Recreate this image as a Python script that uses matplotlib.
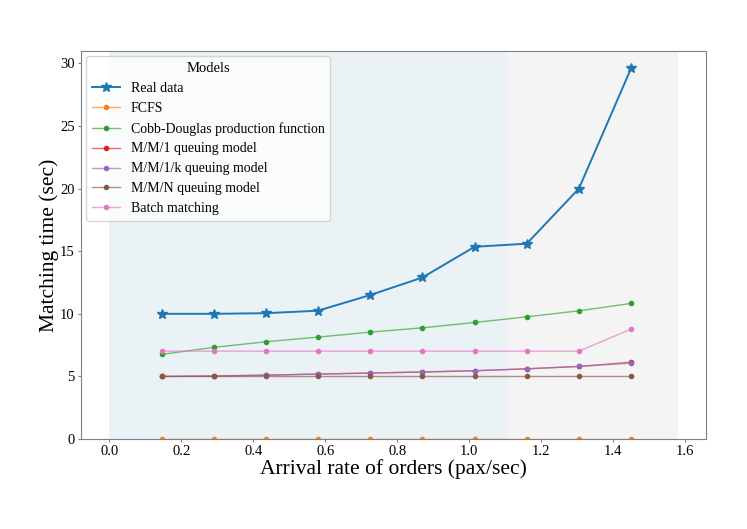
import matplotlib
matplotlib.use("Agg")
import matplotlib.pyplot as plt
from matplotlib.colors import to_rgba

plt.rcParams['font.family'] = ['Liberation Serif', 'DejaVu Serif']

# arrival rate of orders (pax/sec)
rate = [0.145, 0.29, 0.435, 0.58, 0.725, 0.87, 1.015, 1.16, 1.305, 1.45]

real_data = [10.0, 10.0, 10.05, 10.25, 11.5, 12.9, 15.35, 15.6, 20.0, 29.6]
fcfs = [0, 0, 0, 0, 0, 0, 0, 0, 0, 0]
cobb_douglas = [6.76, 7.32, 7.77, 8.14, 8.54, 8.88, 9.31, 9.76, 10.24, 10.83]
mm1 = [5.0, 5.03, 5.1, 5.19, 5.27, 5.35, 5.45, 5.61, 5.8, 6.14]
mm1k = [5.0, 5.04, 5.11, 5.19, 5.27, 5.36, 5.46, 5.61, 5.8, 6.06]
mmn = [5.0, 5.0, 5.0, 5.0, 5.0, 5.0, 5.0, 5.0, 5.0, 5.0]
batch = [7.02, 7.02, 7.02, 7.02, 7.02, 7.02, 7.02, 7.02, 7.02, 8.78]

models = [
    (fcfs, "#ff7f0e", "FCFS"),
    (cobb_douglas, "#2ca02c", "Cobb-Douglas production function"),
    (mm1, "#d62728", "M/M/1 queuing model"),
    (mm1k, "#9467bd", "M/M/1/k queuing model"),
    (mmn, "#8c564b", "M/M/N queuing model"),
    (batch, "#e377c2", "Batch matching"),
]

fig = plt.figure(figsize=(7.47, 5.29), dpi=100)
ax = fig.add_axes([0.108, 0.17, 0.837, 0.734])

ax.axvspan(0.0, 1.105, color="#eaf2f5", zorder=0, lw=0)
ax.axvspan(1.105, 1.58, color="#f4f4f4", zorder=0, lw=0)

ax.plot(rate, real_data, color="#1f77b4", marker="*", markersize=7, lw=1.4, label="Real data")
for vals, c, name in models:
    ax.plot(rate, vals, color=to_rgba(c, 0.65), marker=".", markersize=6, lw=1.0,
            markerfacecolor=c, markeredgecolor=c, label=name)

ax.set_xlim(-0.08, 1.658)
ax.set_ylim(0, 31)
ax.set_xticks([0.0, 0.2, 0.4, 0.6, 0.8, 1.0, 1.2, 1.4, 1.6])
ax.set_yticks([0, 5, 10, 15, 20, 25, 30])
ax.tick_params(labelsize=10.5, color="#808080", length=2.5, pad=1.8)
for s in ax.spines.values():
    s.set_color("#808080")

ax.set_xlabel("Arrival rate of orders (pax/sec)", fontsize=15.5, labelpad=1)
ax.set_ylabel("Matching time (sec)", fontsize=15.5, labelpad=1)

leg = ax.legend(title="Models", loc="upper left", fontsize=10, title_fontsize=10.5,
                framealpha=0.8, borderaxespad=0.4)

fig.savefig("out.png", dpi=100)
